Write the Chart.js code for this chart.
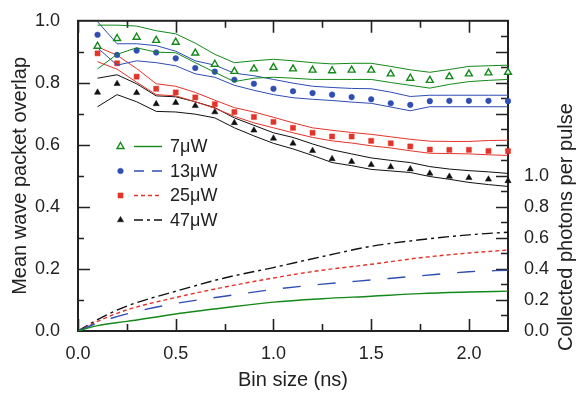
<!doctype html>
<html>
<head>
<meta charset="utf-8" />
<title>Wave packet overlap vs bin size</title>
<style>
  body { margin: 0; background: #fff; }
  #chart { display: block; }
</style>
<script src="https://cdn.jsdelivr.net/npm/chart.js"></script>
</head>
<body>
<canvas id="chart" width="576" height="394"></canvas>
<script>
// bin sizes (ns) of the overlap analysis
const binSizes = [0.1, 0.2, 0.3, 0.4, 0.5, 0.6, 0.7, 0.8, 0.9, 1.0, 1.1,
                  1.2, 1.3, 1.4, 1.5, 1.6, 1.7, 1.8, 1.9, 2.0, 2.1, 2.2];

// mean wave packet overlap, measured points with upper / lower bounds
const overlap7    = [0.918, 0.943, 0.947, 0.937, 0.931, 0.896, 0.860, 0.837, 0.845, 0.850, 0.845, 0.841, 0.839, 0.841, 0.841, 0.829, 0.815, 0.808, 0.820, 0.829, 0.832, 0.834];
const overlap7Hi  = [0.986, 0.986, 0.983, 0.968, 0.958, 0.928, 0.892, 0.865, 0.871, 0.876, 0.871, 0.865, 0.861, 0.863, 0.863, 0.853, 0.842, 0.834, 0.843, 0.853, 0.855, 0.857];
const overlap7Lo  = [0.845, 0.892, 0.913, 0.899, 0.897, 0.865, 0.834, 0.804, 0.815, 0.818, 0.815, 0.811, 0.811, 0.811, 0.811, 0.801, 0.792, 0.783, 0.795, 0.804, 0.808, 0.811];

const overlap13   = [0.955, 0.890, 0.904, 0.898, 0.879, 0.848, 0.836, 0.810, 0.797, 0.781, 0.773, 0.767, 0.762, 0.754, 0.747, 0.734, 0.729, 0.741, 0.742, 0.742, 0.742, 0.741];
const overlap13Hi = [0.997, 0.926, 0.926, 0.920, 0.902, 0.871, 0.857, 0.831, 0.823, 0.811, 0.799, 0.789, 0.785, 0.782, 0.781, 0.770, 0.756, 0.760, 0.760, 0.760, 0.760, 0.760];
const overlap13Lo = [0.913, 0.857, 0.871, 0.865, 0.855, 0.829, 0.818, 0.792, 0.776, 0.762, 0.752, 0.747, 0.743, 0.738, 0.734, 0.722, 0.710, 0.723, 0.723, 0.723, 0.723, 0.723];

const overlap25   = [0.895, 0.863, 0.820, 0.781, 0.769, 0.753, 0.731, 0.706, 0.690, 0.674, 0.655, 0.639, 0.627, 0.627, 0.613, 0.605, 0.595, 0.585, 0.584, 0.584, 0.580, 0.580];
const overlap25Hi = [0.916, 0.889, 0.846, 0.797, 0.789, 0.769, 0.744, 0.720, 0.706, 0.689, 0.671, 0.655, 0.647, 0.640, 0.634, 0.626, 0.618, 0.612, 0.611, 0.611, 0.614, 0.615];
const overlap25Lo = [0.868, 0.844, 0.802, 0.762, 0.758, 0.739, 0.718, 0.692, 0.671, 0.655, 0.639, 0.624, 0.613, 0.606, 0.597, 0.590, 0.581, 0.573, 0.572, 0.571, 0.568, 0.566];

const overlap47   = [0.769, 0.797, 0.768, 0.732, 0.736, 0.726, 0.706, 0.671, 0.647, 0.621, 0.605, 0.581, 0.555, 0.546, 0.536, 0.529, 0.522, 0.508, 0.498, 0.494, 0.489, 0.484];
const overlap47Hi = [0.815, 0.826, 0.797, 0.758, 0.755, 0.739, 0.720, 0.687, 0.663, 0.639, 0.624, 0.603, 0.584, 0.571, 0.558, 0.550, 0.543, 0.530, 0.522, 0.517, 0.513, 0.508];
const overlap47Lo = [0.723, 0.762, 0.739, 0.708, 0.706, 0.699, 0.687, 0.655, 0.629, 0.605, 0.587, 0.566, 0.543, 0.533, 0.521, 0.516, 0.511, 0.498, 0.489, 0.479, 0.472, 0.466];

// collected photons per pulse (right axis)
const photonBins = [0, 0.1, 0.25, 0.5, 0.75, 1.0, 1.25, 1.5, 1.75, 2.0, 2.2];
const photons7   = [0, 0.035, 0.062, 0.110, 0.150, 0.186, 0.208, 0.224, 0.241, 0.251, 0.257];
const photons13  = [0, 0.052, 0.110, 0.178, 0.224, 0.268, 0.302, 0.329, 0.356, 0.382, 0.392];
const photons25  = [0, 0.062, 0.136, 0.216, 0.283, 0.342, 0.392, 0.430, 0.472, 0.503, 0.522];
const photons47  = [0, 0.073, 0.161, 0.256, 0.342, 0.409, 0.480, 0.546, 0.588, 0.620, 0.637];

// labelled tick values
const xTickValues = [0, 0.5, 1.0, 1.5, 2.0];
const yTickValues = [0, 0.2, 0.4, 0.6, 0.8, 1.0];
const y2TickValues = [0, 0.2, 0.4, 0.6, 0.8, 1.0];

const powers = ['7\u03bcW', '13\u03bcW', '25\u03bcW', '47\u03bcW'];

const GREEN = '#13891a', BLUE = '#2f4db3', RED = '#e3342a', BLACK = '#111';
const INK = '#222';
const FONT = '"Liberation Sans", Arial, Helvetica, sans-serif';

const pts = (xs, ys) => xs.map((x, i) => ({ x: x, y: ys[i] }));
const fixTicks = values => s => { s.ticks = values.map(v => ({ value: v })); };

function markers(ys, color, style, radius, hollow) {
  return {
    data: pts(binSizes, ys), showLine: false, clip: false,
    pointStyle: style, pointRadius: radius,
    pointBackgroundColor: hollow ? '#fff' : color,
    pointBorderColor: color, pointBorderWidth: hollow ? 1.4 : 0.5
  };
}
function band(ys, color) {
  return { data: pts(binSizes, ys), borderColor: color, borderWidth: 1, pointRadius: 0, tension: 0 };
}
function photonCurve(ys, color, dash) {
  return {
    data: pts(photonBins, ys), yAxisID: 'y2', borderColor: color, borderWidth: 1.4,
    borderDash: dash, pointRadius: 0, cubicInterpolationMode: 'monotone'
  };
}

const dashes = [[], [18, 17], [4, 3], [11, 4, 3, 4]];
const legendDashes = [[], [10, 8], [4, 3], [9, 4, 3, 4]];
const colors = [GREEN, BLUE, RED, BLACK];

// inward tick marks and the frame round the plot
const frameAndTicks = {
  id: 'frameAndTicks',
  beforeDatasetsDraw(chart) {
    const { ctx, chartArea: a, scales } = chart;
    ctx.save();
    ctx.strokeStyle = INK;
    ctx.lineWidth = 1.6;
    ctx.beginPath();
    for (let i = 0; i <= 8; i++) {
      const px = Math.round(scales.x.getPixelForValue(i * 0.25)) + 0.5;
      const len = i % 2 === 0 ? 12 : 7;
      ctx.moveTo(px, a.bottom); ctx.lineTo(px, a.bottom - len);
      ctx.moveTo(px, a.top); ctx.lineTo(px, a.top + len);
    }
    for (let i = 1; i < 10; i++) {
      const py = Math.round(scales.y.getPixelForValue(i * 0.1)) + 0.5;
      const len = i % 2 === 0 ? 12 : 6;
      ctx.moveTo(a.left, py); ctx.lineTo(a.left + len, py);
    }
    for (let i = 1; i < 20; i++) {
      const py = Math.round(scales.y2.getPixelForValue(i * 0.1)) + 0.5;
      const len = i % 2 === 0 ? 12 : 7;
      ctx.moveTo(a.right, py); ctx.lineTo(a.right - len, py);
    }
    ctx.stroke();
    ctx.lineWidth = 2;
    ctx.strokeRect(a.left, a.top, a.right - a.left, a.bottom - a.top);
    ctx.restore();
  },
  afterDraw(chart) {
    const { ctx, scales } = chart;
    ctx.save();
    // right axis title sits beside the labelled part of the scale
    ctx.fillStyle = INK;
    ctx.font = '20px ' + FONT;
    ctx.textAlign = 'center';
    ctx.textBaseline = 'middle';
    ctx.translate(566, scales.y2.getPixelForValue(0.67));
    ctx.rotate(-Math.PI / 2);
    ctx.fillText('Collected photons per pulse', 0, 0);
    ctx.restore();

    // legend: marker, curve style, power
    const rows = [146.5, 171, 195.5, 220];
    const sets = chart.data.datasets;
    rows.forEach((y, i) => {
      const m = sets[i * 3];
      ctx.save();
      ctx.fillStyle = m.pointBackgroundColor;
      ctx.strokeStyle = m.pointBorderColor;
      ctx.lineWidth = m.pointBorderWidth;
      Chart.helpers.drawPoint(ctx, { pointStyle: m.pointStyle, radius: m.pointRadius, borderWidth: m.pointBorderWidth, rotation: 0 }, 120.5, y);
      ctx.strokeStyle = colors[i];
      ctx.lineWidth = 1.4;
      ctx.setLineDash(legendDashes[i]);
      ctx.beginPath();
      ctx.moveTo(134, y); ctx.lineTo(162, y);
      ctx.stroke();
      ctx.setLineDash([]);
      ctx.fillStyle = INK;
      ctx.font = '18px ' + FONT;
      ctx.textBaseline = 'middle';
      ctx.fillText(powers[i], 170, y + 1);
      ctx.restore();
    });
  }
};

const datasets = [
  markers(overlap7, GREEN, 'triangle', 4, true),   band(overlap7Hi, GREEN),  band(overlap7Lo, GREEN),
  markers(overlap13, BLUE, 'circle', 2.8, false),  band(overlap13Hi, BLUE),  band(overlap13Lo, BLUE),
  markers(overlap25, RED, 'rect', 3.6, false),     band(overlap25Hi, RED),   band(overlap25Lo, RED),
  markers(overlap47, BLACK, 'triangle', 3.6, false), band(overlap47Hi, BLACK), band(overlap47Lo, BLACK),
  photonCurve(photons7, GREEN, dashes[0]),
  photonCurve(photons13, BLUE, dashes[1]),
  photonCurve(photons25, RED, dashes[2]),
  photonCurve(photons47, BLACK, dashes[3])
];

const tickFont = { family: FONT, size: 18 };
const titleFont = { family: FONT, size: 20 };

new Chart(document.getElementById('chart'), {
  type: 'line',
  data: { datasets: datasets },
  options: {
    responsive: false,
    animation: false,
    layout: { padding: { top: 15 } },
    plugins: { legend: { display: false }, tooltip: { enabled: false } },
    scales: {
      x: {
        type: 'linear', min: 0, max: 2.2,
        grid: { display: false }, border: { display: false },
        afterBuildTicks: fixTicks(xTickValues),
        ticks: { color: INK, font: tickFont, padding: 4, maxRotation: 0,
                 callback: v => v.toFixed(1) },
        title: { display: true, text: 'Bin size (ns)', color: INK, font: titleFont, padding: { top: 0, bottom: 2 } },
        afterFit: s => { s.height = 63; }
      },
      y: {
        position: 'left', min: 0, max: 1,
        grid: { display: false }, border: { display: false },
        afterBuildTicks: fixTicks(yTickValues),
        ticks: { color: INK, font: tickFont, padding: 10, callback: v => v.toFixed(1) },
        title: { display: true, text: 'Mean wave packet overlap', color: INK, font: titleFont, padding: { top: 8, bottom: 0 } },
        afterFit: s => { s.width = 78; }
      },
      y2: {
        position: 'right', min: 0, max: 2,
        grid: { display: false }, border: { display: false },
        afterBuildTicks: fixTicks(y2TickValues),
        ticks: { color: INK, font: tickFont, padding: 8, callback: v => v.toFixed(1) },
        afterFit: s => { s.width = 68; }
      }
    }
  },
  plugins: [frameAndTicks]
});
</script>
</body>
</html>
